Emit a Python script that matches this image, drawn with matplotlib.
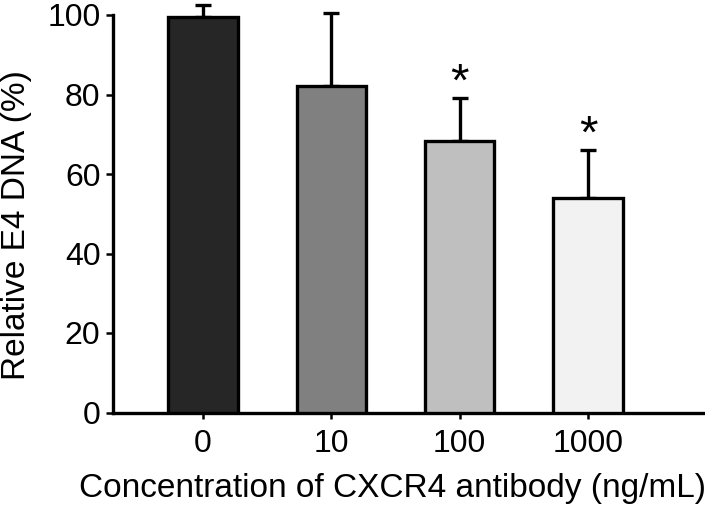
import matplotlib
matplotlib.use("Agg")
import matplotlib.pyplot as plt

categories = ["0", "10", "100", "1000"]
values = [99.5, 82.2, 68.2, 54.0]
errors = [3.0, 18.2, 10.9, 12.1]
colors = ["#262626", "#808080", "#bfbfbf", "#f2f2f2"]
significant = [False, False, True, True]
yticks = [0, 20, 40, 60, 80, 100]

plt.rcParams['font.family'] = ['Liberation Sans', 'DejaVu Sans']

fig = plt.figure(figsize=(7.05, 5.07), dpi=100)
ax = fig.add_axes([113/705, 1 - 412.5/507, 1 - 113/705, (412.5 - 15)/507])

x = list(range(len(categories)))
ax.bar(x, values, width=0.54, color=colors, edgecolor="black", linewidth=2.4, zorder=3)
ax.errorbar(x, values, yerr=[[0]*len(errors), errors], fmt="none", ecolor="black",
            elinewidth=2.4, capsize=6, capthick=2.4, clip_on=False, zorder=2)
for xi, v, e, s in zip(x, values, errors, significant):
    if s:
        ax.annotate("*", (xi, v + e), xytext=(0, -5.5), textcoords="offset points",
                    ha="center", va="bottom", fontsize=34, annotation_clip=False)

ax.set_xlim(-0.70, 3.91)
ax.set_ylim(0, 100)
ax.set_xticks(x)
ax.set_xticklabels(categories)
ax.set_yticks(yticks)
ax.spines["top"].set_visible(False)
ax.spines["right"].set_visible(False)
ax.spines["left"].set_linewidth(2.4)
ax.spines["bottom"].set_linewidth(2.4)
ax.tick_params(axis="y", length=5, width=1.8, labelsize=23, pad=4)
ax.tick_params(axis="x", length=4, width=1.8, labelsize=23, pad=8)
ax.set_ylabel("Relative E4 DNA (%)", fontsize=24)
ax.set_xlabel("Concentration of CXCR4 antibody (ng/mL)", fontsize=24, labelpad=10)
ax.yaxis.set_label_coords((32 - 113) / 592, 0.472)
ax.xaxis.label.set_x(0.472)

fig.savefig("out.png", dpi=100)
